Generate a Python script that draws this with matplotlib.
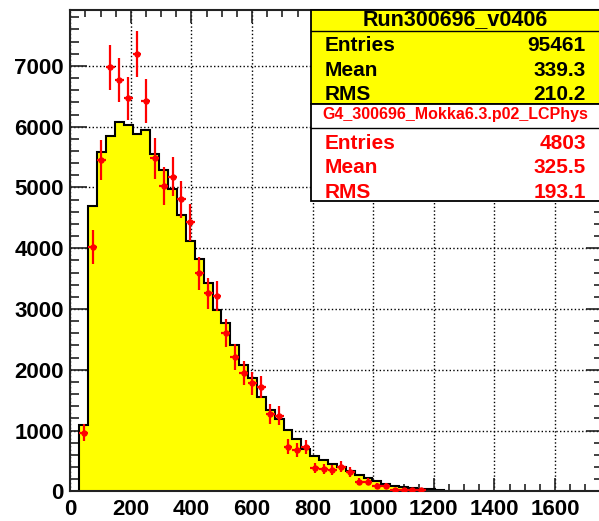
"""
Run300696 energy-sum histogram: data (yellow) vs G4/Mokka MC (red points).

Output:
- out.png (599 x 521 px)
"""

import numpy as np
import matplotlib
matplotlib.use("Agg")
import matplotlib.pyplot as plt
from matplotlib.patches import Rectangle
from matplotlib.lines import Line2D
from matplotlib.ticker import MultipleLocator

plt.rcParams.update({
    "font.family": ["Liberation Sans", "DejaVu Sans"],
    "font.weight": "bold",
    "font.size": 16,
})

# ---- binning (60 bins over 0-1760, first filled bin starts at bin 1) ----
BIN_W = 1760 / 60
FIRST_BIN = 1

# yellow histogram, Run300696_v0406 (bin contents)
run_counts = [1090, 4700, 5590, 5846, 6071, 6022, 5885, 5940, 5544, 5286,
              4973, 4550, 4122, 3817, 3432, 2982, 2773, 2405, 2076, 1867,
              1554, 1334, 1198, 1005, 857, 700, 585, 520, 455, 400,
              330, 270, 215, 165, 125, 95, 75, 55, 40, 32,
              25, 10, 8, 6, 5]

# red points, G4_300696_Mokka6.3.p02_LCPhys (normalised)
mc_counts = [964, 4023, 5449, 6979, 6765, 6464, 7197, 6424, 5477, 5026,
             5174, 4803, 4424, 3586, 3257, 3212, 2609, 2214, 1951, 1776,
             1720, 1271, 1243, 734, 679, 730, 380, 362, 350, 405,
             322, 158, 158, 95, 95, 20, 20, 20, 20]
mc_errors = [138, 283, 329, 372, 367, 358, 378, 357, 330, 316,
             321, 309, 297, 267, 254, 253, 228, 210, 197, 188,
             185, 159, 157, 121, 116, 120, 87, 85, 83, 90,
             80, 56, 56, 43, 43, 20, 20, 20, 20]

# stats boxes
run_title = "Run300696_v0406"
run_stats = [("Entries", "95461"), ("Mean", "339.3"), ("RMS", "210.2")]
mc_title = "G4_300696_Mokka6.3.p02_LCPhys"
mc_stats = [("Entries", "4803"), ("Mean", "325.5"), ("RMS", "193.1")]

W, H = 599, 521


def fpos(x, y):
    """pixel (from top-left) -> figure fraction"""
    return x / W, 1 - y / H


def main():
    fig = plt.figure(figsize=(W / 100, H / 100), dpi=100)
    ax = fig.add_axes([0.1174, 0.0570, 0.8901, 0.9238])

    # dotted grid at major ticks, behind the histogram
    ax.set_axisbelow(True)
    ax.grid(True, which="major", color="black", linewidth=1.0, linestyle=":")

    edges = (np.arange(len(run_counts) + 1) + FIRST_BIN) * BIN_W
    ax.stairs(run_counts, edges, fill=True, color="#ffff00", zorder=1)
    ax.stairs(run_counts, edges, color="black", linewidth=1.5, baseline=0, zorder=1.5)

    centers = (np.arange(len(mc_counts)) + FIRST_BIN + 0.5) * BIN_W
    ax.errorbar(centers, mc_counts, yerr=mc_errors, xerr=BIN_W / 2,
                fmt="o", color="#ff0000", ms=3.6, elinewidth=1.6,
                capsize=0, zorder=3)

    ax.set_xlim(0, 1760)
    ax.set_ylim(0, 7920)
    ax.xaxis.set_major_locator(MultipleLocator(200))
    ax.xaxis.set_minor_locator(MultipleLocator(50))
    ax.yaxis.set_major_locator(MultipleLocator(1000))
    ax.yaxis.set_minor_locator(MultipleLocator(200))

    ax.tick_params(axis="both", which="both", direction="in",
                   top=True, right=True, width=1.2, color="#222")
    ax.tick_params(axis="x", which="major", length=9.5, pad=5.5)
    ax.tick_params(axis="x", which="minor", length=4.8)
    ax.tick_params(axis="y", which="major", length=12, pad=4.8)
    ax.tick_params(axis="y", which="minor", length=6.5)
    for lab in ax.get_xticklabels() + ax.get_yticklabels():
        lab.set_fontweight("bold")

    for sp in ax.spines.values():
        sp.set_linewidth(1.5)
        sp.set_color("#222")

    # ---- stats box 1 (yellow, data) ----
    x0, x1 = 311, 606
    fig.patches.append(Rectangle(fpos(x0, 104), (x1 - x0) / W, 94 / H,
                                 transform=fig.transFigure, facecolor="#ffff00",
                                 edgecolor="black", linewidth=1.3))
    fig.lines.append(Line2D([x0 / W, x1 / W], [1 - 31 / H, 1 - 31 / H],
                            transform=fig.transFigure, color="black", lw=1.0))
    fig.text(*fpos(455, 25), run_title, ha="center", va="baseline",
             fontsize=15.5, fontweight="bold", color="black")
    for (name, val), yb in zip(run_stats, [51, 76, 100]):
        fig.text(*fpos(325, yb), name, ha="left", va="baseline",
                 fontsize=15, fontweight="bold", color="black")
        fig.text(*fpos(586, yb), val, ha="right", va="baseline",
                 fontsize=15, fontweight="bold", color="black")

    # ---- stats box 2 (white, MC) ----
    fig.patches.append(Rectangle(fpos(x0, 201), (x1 - x0) / W, 97 / H,
                                 transform=fig.transFigure, facecolor="white",
                                 edgecolor="black", linewidth=1.3))
    fig.lines.append(Line2D([x0 / W, x1 / W], [1 - 127.7 / H, 1 - 127.7 / H],
                            transform=fig.transFigure, color="black", lw=1.0))
    fig.text(*fpos(455, 119.5), mc_title, ha="center", va="baseline",
             fontsize=11.5, fontweight="bold", color="#ff0000")
    for (name, val), yb in zip(mc_stats, [149, 173, 198]):
        fig.text(*fpos(325, yb), name, ha="left", va="baseline",
                 fontsize=15, fontweight="bold", color="#ff0000")
        fig.text(*fpos(586, yb), val, ha="right", va="baseline",
                 fontsize=15, fontweight="bold", color="#ff0000")

    fig.savefig("out.png", dpi=100)
    plt.close(fig)


if __name__ == "__main__":
    main()
